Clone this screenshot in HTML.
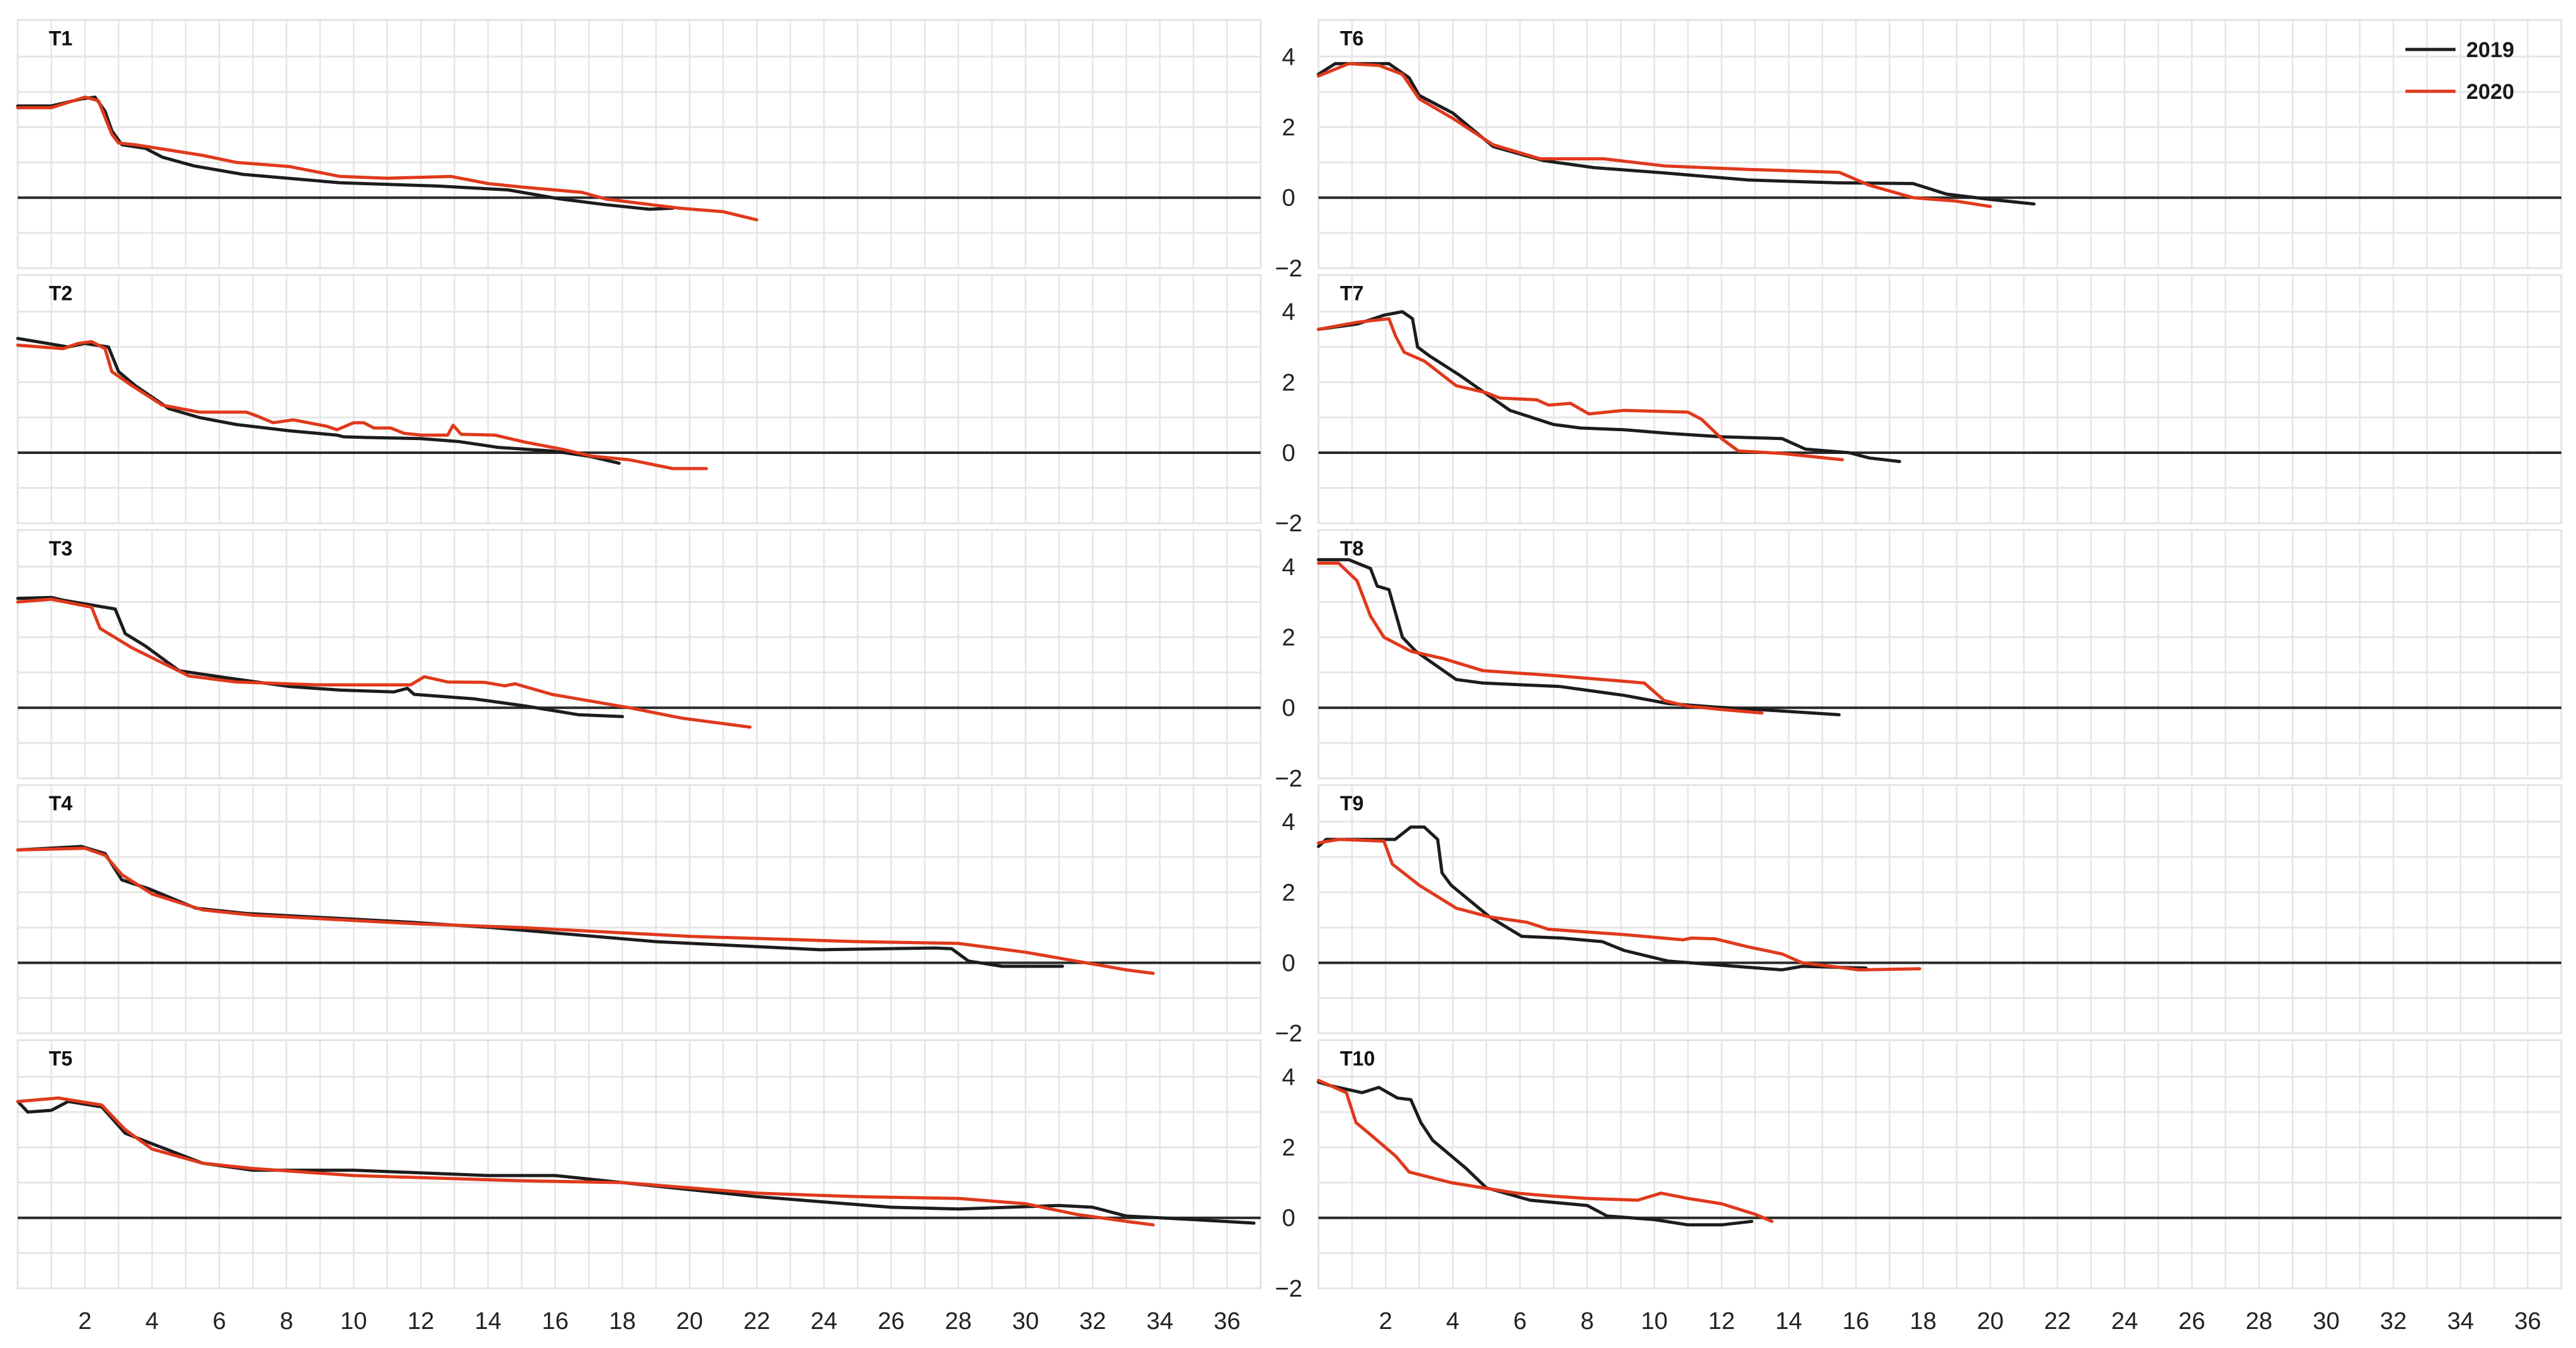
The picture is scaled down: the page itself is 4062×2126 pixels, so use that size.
<!DOCTYPE html>
<html><head><meta charset="utf-8">
<style>
html,body{margin:0;padding:0;background:#fff;}
svg{display:block;}
text{font-family:"Liberation Sans",sans-serif;}
</style></head>
<body>
<svg id="chart" width="4062" height="2126" viewBox="0 0 4062 2126" xmlns="http://www.w3.org/2000/svg"></svg>
<script>
// ---- data ----
const panelNames = ["T1","T2","T3","T4","T5","T6","T7","T8","T9","T10"];
const xTicks = [2,4,6,8,10,12,14,16,18,20,22,24,26,28,30,32,34,36];
const yTicks = [4,2,0,-2];
const seriesYears = ["2019","2020"];

const t1x19=[0,1,1.9,2.3,2.6,2.8,3.1,3.8,4.3,5.25,6.7,9.6,12.5,14.6,16.1,17.5,18.8,19.5];
const t1y19=[2.6,2.6,2.8,2.85,2.45,1.9,1.5,1.4,1.15,0.9,0.66,0.42,0.33,0.22,-0.03,-0.2,-0.33,-0.3];
const t1x20=[0,1,2,2.4,2.8,3,3.5,4.5,5.5,6.5,8.1,9.6,11,12.9,14,15,16.8,17.5,19.7,21,22];
const t1y20=[2.55,2.55,2.85,2.75,1.8,1.55,1.5,1.35,1.2,1.0,0.88,0.6,0.55,0.6,0.4,0.3,0.15,-0.04,-0.3,-0.4,-0.63];

const t2x19=[0,0.57,1.5,2.0,2.7,3.0,3.5,4.5,5.4,6.5,8.1,9.5,9.7,10.4,12.0,13.1,14.3,15.9,17.0,17.9];
const t2y19=[3.24,3.15,3.0,3.1,3.0,2.3,1.9,1.25,1.0,0.8,0.62,0.5,0.45,0.43,0.4,0.32,0.15,0.05,-0.1,-0.3];
const t2x20=[0,1.35,1.8,2.2,2.6,2.8,3.4,4.3,5.4,6.8,7.1,7.6,8.2,9.2,9.5,10.0,10.3,10.6,11.1,11.5,12.0,12.8,12.96,13.2,14.2,15.1,16.2,17.1,18.2,19.5,20.5];
const t2y20=[3.05,2.95,3.1,3.15,2.95,2.3,1.9,1.35,1.15,1.15,1.05,0.85,0.93,0.75,0.65,0.85,0.85,0.7,0.7,0.55,0.5,0.5,0.78,0.52,0.5,0.3,0.1,-0.1,-0.2,-0.45,-0.45];

const t3x19=[0,1.0,1.35,2.9,3.2,3.8,4.8,6.2,8.1,9.6,11.2,11.6,11.8,13.6,15.1,16.7,18.0];
const t3y19=[3.1,3.13,3.05,2.8,2.1,1.75,1.05,0.85,0.6,0.5,0.45,0.55,0.38,0.25,0.05,-0.2,-0.25];
const t3x20=[0,1.0,2.2,2.45,3.4,5.1,6.5,8.9,11.7,12.1,12.8,13.9,14.5,14.8,15.9,18.2,19.8,21.0,21.8];
const t3y20=[3.0,3.08,2.85,2.25,1.7,0.9,0.73,0.65,0.65,0.88,0.73,0.72,0.62,0.68,0.38,0.0,-0.3,-0.45,-0.55];

const t4x19=[0,1.9,2.6,3.1,3.9,5.3,6.8,11.7,14.1,19,23.9,27.3,27.8,28.3,29.3,31.1];
const t4y19=[3.2,3.3,3.1,2.35,2.1,1.55,1.4,1.15,1.0,0.6,0.37,0.42,0.4,0.05,-0.1,-0.1];
const t4x20=[0,2,2.6,3.1,4,5.5,7,10,12,15,20,25,28,30,31.5,33,33.8];
const t4y20=[3.2,3.25,3.05,2.5,1.95,1.5,1.35,1.2,1.1,1.0,0.75,0.6,0.55,0.3,0.05,-0.2,-0.3];

const t5x19=[0,0.3,1.0,1.5,2.5,3.2,4,5.5,7,10,14,16,18,22,26,28,31,32,33,35,36.8];
const t5y19=[3.3,3.0,3.05,3.3,3.15,2.4,2.1,1.55,1.35,1.35,1.2,1.2,1.0,0.6,0.3,0.25,0.35,0.3,0.05,-0.05,-0.15];
const t5x20=[0,1.2,2.5,3.2,4,5.5,7,10,15,18,22,25,28,30,31.5,33,33.8];
const t5y20=[3.3,3.4,3.2,2.5,1.95,1.55,1.4,1.2,1.05,1.0,0.7,0.6,0.55,0.4,0.1,-0.1,-0.2];

const t6x19=[0,0.5,2.1,2.7,3.0,4.0,5.2,6.7,8.2,10.3,12.8,15.4,17.7,18.7,20.0,21.3];
const t6y19=[3.5,3.8,3.8,3.4,2.9,2.4,1.45,1.05,0.85,0.7,0.5,0.42,0.4,0.1,-0.05,-0.18];
const t6x20=[0,0.9,1.8,2.5,3.0,4.0,5.2,6.6,8.5,10.3,12.8,15.5,16.4,17.7,19.0,20.0];
const t6y20=[3.45,3.8,3.75,3.5,2.8,2.25,1.5,1.1,1.1,0.9,0.8,0.72,0.35,0.0,-0.1,-0.25];

const t7x19=[0,1.16,1.95,2.5,2.8,2.95,3.3,4.2,5.1,5.7,7.0,7.8,9.1,10.4,12.0,13.8,14.5,15.8,16.4,17.3];
const t7y19=[3.5,3.65,3.9,4.0,3.8,3.0,2.75,2.2,1.6,1.2,0.8,0.7,0.65,0.55,0.45,0.4,0.1,0.0,-0.15,-0.25];
const t7x20=[0,1.16,2.1,2.3,2.55,3.15,4.1,5.0,5.4,6.5,6.85,7.5,8.05,9.1,11.0,11.4,12.0,12.5,13.8,15.6];
const t7y20=[3.5,3.7,3.8,3.3,2.85,2.6,1.9,1.7,1.55,1.5,1.35,1.4,1.1,1.2,1.15,0.95,0.4,0.05,-0.02,-0.2];

const t8x19=[0,0.9,1.55,1.75,2.1,2.5,2.9,4.1,4.9,7.2,9.1,10.4,11.8,13.1,15.5];
const t8y19=[4.2,4.2,3.95,3.45,3.35,2.0,1.6,0.8,0.7,0.6,0.35,0.12,0.02,-0.05,-0.2];
const t8x20=[0,0.6,1.15,1.55,1.95,2.75,3.7,4.9,7.2,9.1,9.7,10.3,10.97,12.0,13.2];
const t8y20=[4.1,4.1,3.6,2.6,2.0,1.6,1.4,1.05,0.9,0.75,0.7,0.2,0.05,-0.05,-0.15];

const t9x19=[0,0.23,0.76,2.28,2.75,3.15,3.55,3.68,3.95,5.1,6.05,7.25,8.45,9.1,10.4,12.4,13.8,14.4,16.3];
const t9y19=[3.3,3.5,3.5,3.5,3.85,3.85,3.5,2.55,2.2,1.3,0.75,0.7,0.6,0.35,0.05,-0.1,-0.2,-0.1,-0.15];
const t9x20=[0,0.6,1.95,2.2,3.0,4.1,5.1,6.2,6.85,9.1,10.85,11.1,11.8,12.8,13.8,14.4,16.1,17.9];
const t9y20=[3.4,3.5,3.45,2.8,2.2,1.55,1.3,1.15,0.95,0.8,0.65,0.7,0.68,0.45,0.25,0.0,-0.2,-0.17];

const t10x19=[0,0.35,1.3,1.8,2.35,2.75,3.05,3.4,4.4,5.0,6.3,8.0,8.6,10,11,12,12.9];
const t10y19=[3.85,3.75,3.55,3.7,3.4,3.35,2.7,2.2,1.4,0.85,0.5,0.35,0.05,-0.05,-0.2,-0.2,-0.1];
const t10x20=[0,0.83,1.12,1.5,2.3,2.7,3.94,4.9,5.9,6.9,8.0,9.5,10.2,11,12,13,13.5];
const t10y20=[3.9,3.55,2.7,2.4,1.75,1.3,1.0,0.85,0.7,0.62,0.55,0.5,0.7,0.55,0.4,0.1,-0.1];

const xs19=[t1x19,t2x19,t3x19,t4x19,t5x19,t6x19,t7x19,t8x19,t9x19,t10x19];
const ys19=[t1y19,t2y19,t3y19,t4y19,t5y19,t6y19,t7y19,t8y19,t9y19,t10y19];
const xs20=[t1x20,t2x20,t3x20,t4x20,t5x20,t6x20,t7x20,t8x20,t9x20,t10x20];
const ys20=[t1y20,t2y20,t3y20,t4y20,t5y20,t6y20,t7y20,t8y20,t9y20,t10y20];

// ---- layout ----
const NS="http://www.w3.org/2000/svg";
const svg=document.getElementById('chart');
const colLeft=[28,2079];
const xUnit=52.97, xMax=37;
const zero0=311.7, pitch=402.25, yUnit=55.6, yTop=5.04, yBot=-2;
const colors={"2019":"#1c1c1c","2020":"#e0391c"};
function mk(tag,attrs){const e=document.createElementNS(NS,tag);for(const k in attrs)e.setAttribute(k,attrs[k]);return e;}

for(let p=0;p<10;p++){
  const col=p<5?0:1, row=p%5;
  const L=colLeft[col];
  const zero=zero0+row*pitch;
  const sx=v=>L+v*xUnit;
  const sy=v=>zero-v*yUnit;
  const g=mk('g',{});
  
  
  svg.appendChild(g);
  const top=sy(yTop), bot=sy(yBot), right=sx(xMax);
  g.appendChild(mk('rect',{x:L,y:top,width:right-L,height:bot-top,fill:'#fff',stroke:'#e4e4e4','stroke-width':3}));
  for(let i=1;i<xMax;i++){
    const gl=mk('line',{x1:sx(i),x2:sx(i),y1:top,y2:bot,stroke:'#e6e6e6','stroke-width':2.5});
    
    
    g.appendChild(gl);
  }
  for(let v=-1;v<=4;v++){
    if(v===0) continue;
    const gl=mk('line',{x1:L,x2:right,y1:sy(v),y2:sy(v),stroke:'#e6e6e6','stroke-width':3});
    
    
    g.appendChild(gl);
  }
  const zl=mk('line',{x1:L,x2:right,y1:sy(0),y2:sy(0),stroke:'#2a2a2a','stroke-width':4});
  
  
  g.appendChild(zl);
  const tt=mk('text',{x:L+(col===0?49:34),y:top+40,'font-size':32,'font-weight':'bold',fill:'#111'});
  tt.textContent=panelNames[p];
  
  
  g.appendChild(tt);
  if(col===1){
    yTicks.forEach(v=>{
      const t=mk('text',{x:2032,y:sy(v)+13,'font-size':38,'text-anchor':'middle',fill:'#222'});
      t.textContent=v<0?'\u2212'+Math.abs(v):String(v);
      
      
      g.appendChild(t);
    });
  }
  [[xs19[p],ys19[p],"2019"],[xs20[p],ys20[p],"2020"]].forEach(([xa,ya,yr])=>{
    const d=xa.map((x,i)=>(i?'L':'M')+sx(x).toFixed(1)+','+sy(ya[i]).toFixed(1)).join('');
    const path=mk('path',{d:d,fill:'none',stroke:colors[yr],'stroke-width':5,'stroke-linejoin':'round','stroke-linecap':'round'});
    
    
    g.appendChild(path);
  });
  if(row===4){
    xTicks.forEach(v=>{
      const t=mk('text',{x:sx(v),y:2096,'font-size':38,'text-anchor':'middle',fill:'#222'});
      t.textContent=String(v);
      
      
      g.appendChild(t);
    });
  }
}
// legend
const lg=mk('g',{});


svg.appendChild(lg);
seriesYears.forEach((yr,i)=>{
  const y=78+i*66;
  const ln=mk('line',{x1:3793,x2:3872,y1:y,y2:y,stroke:colors[yr],'stroke-width':5});
  
  
  lg.appendChild(ln);
  const t=mk('text',{x:3889,y:y+12,'font-size':34,'font-weight':'bold',fill:'#1a1a1a'});
  t.textContent=yr;
  
  
  lg.appendChild(t);
});
</script>
</body></html>
